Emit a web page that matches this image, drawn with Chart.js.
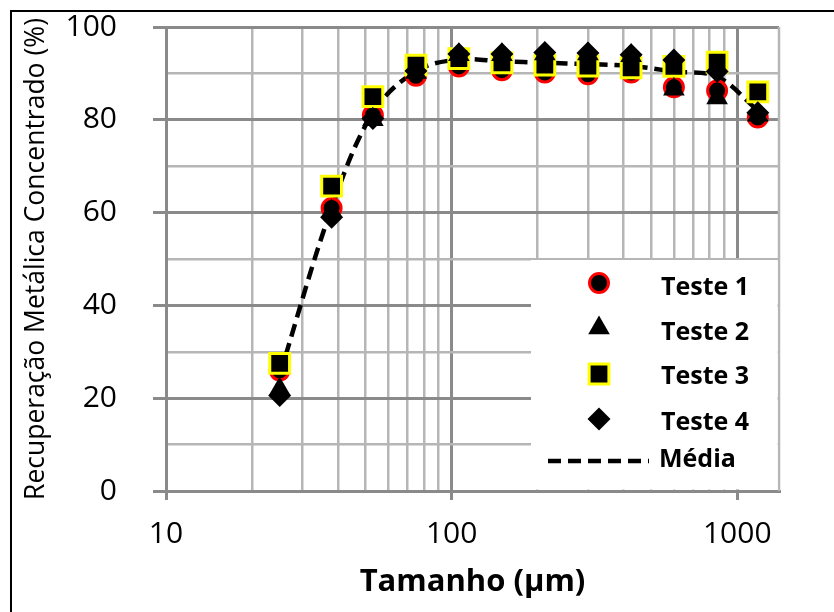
<!DOCTYPE html>
<html lang="pt">
<head>
<meta charset="utf-8">
<title>Recuperação Metálica Concentrado</title>
<script src="https://cdn.jsdelivr.net/npm/chart.js@4.4.1/dist/chart.umd.min.js"></script>
<style>
  html, body { margin: 0; padding: 0; background: #fff; }
  #wrap { width: 834px; height: 612px; }
</style>
</head>
<body>
<div id="wrap"><canvas id="chart" width="834" height="612"></canvas></div>
<script>
// tamanho das peneiras (µm)
const sizes = [25, 38, 53, 75, 106, 150, 212, 300, 425, 600, 850, 1180];

// recuperação metálica no concentrado (%)
const teste1 = [26, 61, 81, 89.5, 91.5, 90.7, 90.2, 89.8, 90.2, 87, 86.3, 80.5];
const teste2 = [22, 60.3, 80, 90.2, 94, 94, 94.2, 94.2, 93.8, 86.6, 84.7, 81];
const teste3 = [27.5, 65.7, 85, 91.8, 93.2, 92.3, 91.8, 91.6, 91.2, 91.5, 92.4, 86];
const teste4 = [20.6, 59, 80.3, 90.5, 94.2, 94.2, 94.5, 94.4, 94, 92.9, 90.4, 81.5];
const media = [25, 61, 81.5, 90.5, 93, 92.6, 92.3, 92, 91.6, 90.4, 89.3, 82];

// eixo x (log) e eixo y
const xTicks = [10, 20, 30, 40, 50, 60, 70, 80, 90, 100, 200, 300, 400, 500, 600, 700, 800, 900, 1000];
const xLabels = [10, 100, 1000];
const yTicks = [0, 10, 20, 30, 40, 50, 60, 70, 80, 90, 100];
const yLabels = [0, 20, 40, 60, 80, 100];

const FONT = "'Open Sans', 'Noto Sans', sans-serif";
const MAJOR = '#8a8a8a';
const MINOR = '#b6b6b6';

const pts = (ys) => sizes.map((x, i) => ({ x: x, y: ys[i] }));

// moldura externa + caixa da legenda
const framePlugin = {
    id: 'frame',
    beforeDraw(chart) {
        const ctx = chart.ctx;
        ctx.save();
        ctx.fillStyle = '#fff';
        ctx.fillRect(0, 0, chart.width, chart.height);
        ctx.strokeStyle = '#000';
        ctx.lineWidth = 2;
        ctx.strokeRect(11, 11, chart.width + 20, chart.height + 20);
        ctx.restore();
    },
    beforeDatasetsDraw(chart) {
        const { ctx, chartArea: a } = chart;
        ctx.save();
        ctx.strokeStyle = MINOR;
        ctx.lineWidth = 2.5;
        ctx.beginPath();
        ctx.moveTo(a.right, a.top);
        ctx.lineTo(a.right, a.bottom);
        ctx.stroke();

        const bx = a.right - 248;
        const by = a.bottom - 231;
        ctx.fillStyle = '#fff';
        ctx.fillRect(bx, by, a.right - 1.3 - bx, a.bottom - 1.5 - by);

        const rows = [-208, -163, -117, -72];
        const textRows = [-203.5, -158.5, -114, -68.5];
        ctx.font = 'bold 25px ' + FONT;
        ctx.textBaseline = 'middle';
        ctx.textAlign = 'left';
        chart.data.datasets.forEach((ds, i) => {
            if (i < 4) {
                ctx.fillStyle = ds.pointBackgroundColor;
                ctx.strokeStyle = ds.pointBorderColor;
                ctx.lineWidth = ds.pointBorderWidth;
                Chart.helpers.drawPoint(ctx, {
                    pointStyle: ds.pointStyle,
                    radius: ds.pointRadius,
                    rotation: 0,
                    borderWidth: ds.pointBorderWidth,
                }, a.right - 180, a.bottom + rows[i]);
                ctx.fillStyle = '#000';
                ctx.fillText(ds.label, a.right - 118, a.bottom + textRows[i]);
            } else {
                ctx.strokeStyle = ds.borderColor;
                ctx.lineWidth = ds.borderWidth;
                ctx.setLineDash(ds.borderDash);
                ctx.beginPath();
                ctx.moveTo(a.right - 231, a.bottom - 30);
                ctx.lineTo(a.right - 130, a.bottom - 30);
                ctx.stroke();
                ctx.setLineDash([]);
                ctx.fillStyle = '#000';
                ctx.fillText(ds.label, a.right - 120, a.bottom - 31);
            }
        });
        ctx.restore();
    },
};

Chart.defaults.font.family = FONT;
Chart.defaults.color = '#000';

new Chart(document.getElementById('chart'), {
    type: 'line',
    data: {
        datasets: [
            {
                label: 'Teste 1',
                data: pts(teste1),
                showLine: false,
                pointStyle: 'circle',
                pointRadius: 9.5,
                pointBackgroundColor: '#000',
                pointBorderColor: '#ff0000',
                pointBorderWidth: 3,
                order: 4,
            },
            {
                label: 'Teste 2',
                data: pts(teste2),
                showLine: false,
                pointStyle: 'triangle',
                pointRadius: 12.5,
                pointBackgroundColor: '#000',
                pointBorderColor: '#000',
                pointBorderWidth: 0,
                order: 2,
            },
            {
                label: 'Teste 3',
                data: pts(teste3),
                showLine: false,
                pointStyle: 'rect',
                pointRadius: 14,
                pointBackgroundColor: '#000',
                pointBorderColor: '#ffff00',
                pointBorderWidth: 3,
                order: 3,
            },
            {
                label: 'Teste 4',
                data: pts(teste4),
                showLine: false,
                pointStyle: 'rectRot',
                pointRadius: 11.5,
                pointBackgroundColor: '#000',
                pointBorderColor: '#000',
                pointBorderWidth: 0,
                order: 1,
            },
            {
                label: 'Média',
                data: pts(media),
                borderColor: '#000',
                borderWidth: 4.5,
                borderDash: [13, 7],
                pointRadius: 0,
                tension: 0.35,
                fill: false,
                order: 5,
            },
        ],
    },
    options: {
        responsive: false,
        animation: false,
        events: [],
        layout: { padding: { left: 0, top: 27, right: 55, bottom: 0 } },
        plugins: {
            legend: { display: false },
            tooltip: { enabled: false },
        },
        scales: {
            x: {
                type: 'logarithmic',
                min: 10,
                max: 1400,
                afterBuildTicks: (scale) => {
                    scale.ticks = xTicks.map((v) => ({ value: v }));
                },
                afterFit: (scale) => {
                    scale.height = 121;
                },
                ticks: {
                    autoSkip: false,
                    maxRotation: 0,
                    padding: 16,
                    font: { size: 30 },
                    callback: (v) => (xLabels.includes(v) ? String(v) : ''),
                },
                grid: {
                    tickLength: 9,
                    color: (c) => (xLabels.includes(c.tick.value) ? MAJOR : MINOR),
                    lineWidth: (c) => (xLabels.includes(c.tick.value) ? 3 : 2.5),
                    tickColor: (c) => (xLabels.includes(c.tick.value) ? MAJOR : 'rgba(0,0,0,0)'),
                },
                border: { color: MAJOR, width: 3 },
                title: {
                    display: true,
                    text: 'Tamanho (µm)',
                    font: { size: 31, weight: 'bold' },
                    padding: { top: 0, bottom: 11 },
                },
            },
            y: {
                min: 0,
                max: 100,
                afterBuildTicks: (scale) => {
                    scale.ticks = yTicks.map((v) => ({ value: v }));
                },
                afterFit: (scale) => {
                    scale.width = 166;
                    scale.paddingTop = 0;
                    scale.paddingBottom = 0;
                },
                ticks: {
                    autoSkip: false,
                    padding: 36,
                    font: { size: 30 },
                    callback: (v) => (yLabels.includes(v) ? String(v) : ''),
                },
                grid: {
                    tickLength: 13,
                    color: (c) => (yLabels.includes(c.tick.value) ? MAJOR : MINOR),
                    lineWidth: (c) => (yLabels.includes(c.tick.value) ? 3 : 2.5),
                    tickColor: (c) => (yLabels.includes(c.tick.value) ? MAJOR : 'rgba(0,0,0,0)'),
                },
                border: { color: MAJOR, width: 3 },
                title: {
                    display: true,
                    text: 'Recuperação Metálica Concentrado (%)',
                    font: { size: 26.5 },
                    padding: { top: 21, bottom: 0 },
                },
            },
        },
    },
    plugins: [framePlugin],
});
</script>
</body>
</html>
